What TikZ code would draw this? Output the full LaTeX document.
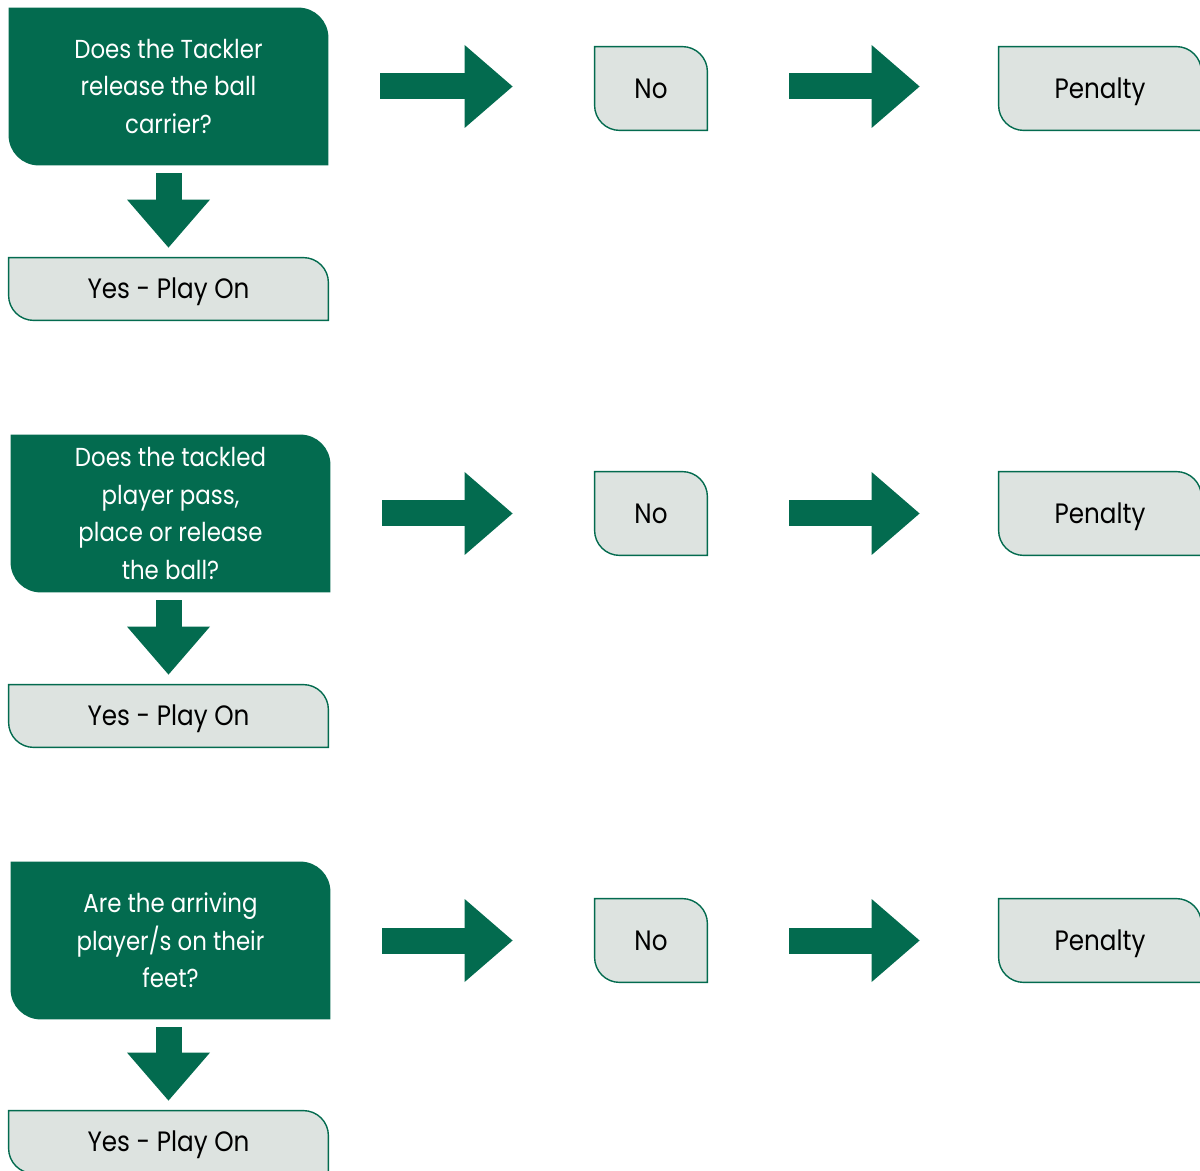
\documentclass[tikz,border=0pt]{standalone}
\usepackage{fontspec}
\setmainfont{Poppins}[FakeStretch=0.88]
\usetikzlibrary{arrows.meta,backgrounds}
\definecolor{rugbygreen}{HTML}{036B4F}
\definecolor{palegrey}{HTML}{DDE3E0}
% box with rounded top right and bottom left corners
\newcommand{\leaf}[3]{\path[#3] (#1.north west) -- ([xshift=-#2]#1.north east) arc[start angle=90, end angle=0, radius=#2] -- (#1.south east) -- ([xshift=#2]#1.south west) arc[start angle=270, end angle=180, radius=#2] -- cycle}

\begin{document}
\begin{tikzpicture}[x=0.5pt, y=-0.5pt,
    question/.style={text=white, align=center, inner sep=0pt, minimum width=159.5pt, minimum height=78.5pt, font=\fontsize{13}{18.75}\selectfont},
    answer/.style={text=black, inner sep=0pt, minimum height=41.5pt, text height=9.8pt, text depth=0pt, font=\fontsize{14}{17}\selectfont},
    bigarrow/.style={rugbygreen, line width=13pt, -{Triangle[width=41.5pt, length=24pt, line width=0pt]}}]
    \useasboundingbox (0,0) rectangle (1200,1171);

    % Tackler
    \node[question] (q1) at (168.5,86.5) {Does the Tackler\\release the ball\\carrier?};
    \node[answer, minimum width=159.5pt, minimum height=31pt] (y1) at (168.5,289) {Yes - Play On};
    \node[answer, minimum width=56pt] (n1) at (651,88.5) {No};
    \node[answer, minimum width=101pt] (p1) at (1100,88.5) {Penalty};

    % Tackled player
    \node[question] (q2) at (170.5,513.5) {Does the tackled\\player pass,\\place or release\\the ball?};
    \node[answer, minimum width=159.5pt, minimum height=31pt] (y2) at (168.5,716) {Yes - Play On};
    \node[answer, minimum width=56pt] (n2) at (651,513.5) {No};
    \node[answer, minimum width=101pt] (p2) at (1100,513.5) {Penalty};

    % Arriving players
    \node[question] (q3) at (170.5,940.5) {Are the arriving\\player/s on their\\feet?};
    \node[answer, minimum width=159.5pt, minimum height=31pt] (y3) at (168.5,1142) {Yes - Play On};
    \node[answer, minimum width=56pt] (n3) at (651,940.5) {No};
    \node[answer, minimum width=101pt] (p3) at (1100,940.5) {Penalty};

    % Boxes
    \begin{scope}[on background layer]
        \foreach \n in {q1,q2,q3}
            \leaf{\n}{15pt}{fill=rugbygreen};
        \foreach \n in {y1,y2,y3,n1,n2,n3,p1,p2,p3}
            \leaf{\n}{12.5pt}{fill=palegrey, draw=rugbygreen, line width=0.7pt};
    \end{scope}

    % Arrows
    \foreach \i in {1,2,3} {
        \draw[bigarrow] ([xshift=26pt]q\i.east) -- ([xshift=-41pt]q\i.east -| n\i.west);
        \draw[bigarrow] ([xshift=41pt]q\i.east -| n\i.east) -- ([xshift=-39.5pt]q\i.east -| p\i.west);
        \draw[bigarrow] ([yshift=-4pt]q\i.south -| y\i.north) -- ([yshift=5pt]y\i.north);
    }
\end{tikzpicture}
\end{document}
